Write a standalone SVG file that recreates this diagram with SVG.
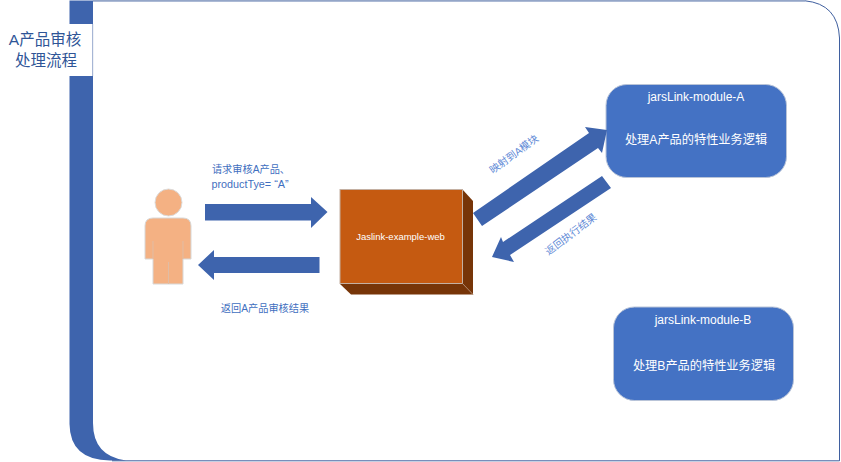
<svg xmlns="http://www.w3.org/2000/svg" width="841" height="462" viewBox="0 0 841 462">
<style>
text{font-family:"Liberation Sans","Noto Sans CJK SC",sans-serif;text-anchor:middle}
.w{fill:#fff}
.arrow{fill:#3e64ad}
.node{fill:#4472c4;stroke:#b9c4d8;stroke-width:1}
.lab{fill:#3f6fc0;font-size:10.200px}
.wide{font-size:10.800px}
.rot{fill:#5f8ad6}
</style>
<rect width="841" height="462" fill="#fff"/>
<g id="frame">
<path d="M69.500 0.500H93V423Q93 456 126 460.500H110Q70 460 69.500 424Z" fill="#3e64ad"/>
<path d="M93 0.800H805Q838 4 839.500 38V460.800H112" fill="none" stroke="#3f5f9f" stroke-width="1"/>
<path d="M93 0.800H805" fill="none" stroke="#94a6c8" stroke-width="1.500"/>
</g>
<g id="title">
<rect x="0" y="24" width="92.500" height="52" fill="#fff"/>
<line x1="92.700" y1="24" x2="92.700" y2="76" stroke="#a9b7d6" stroke-width="1"/>
<text x="45" y="45" font-size="15.500" fill="#2f5597">A产品审核</text>
<text x="46" y="66" font-size="15.500" fill="#2f5597">处理流程</text>
</g>
<g id="person">
<circle cx="168.500" cy="202.500" r="13.500" fill="#f4b183" stroke="#dcdcdc" stroke-width="1"/>
<path d="M153 218H183Q191 218 191 226V259H183V284H153V259H145V226Q145 218 153 218Z" fill="#f4b183" stroke="#d8d8d8" stroke-width="1"/>
<path d="M153 241V259M183 241V259M168.500 262V284" fill="none" stroke="#e0bca4" stroke-width="1"/>
</g>
<g id="jaslink">
<path d="M340 189.500H462.500L473 201V294.500H351L340 284Z" fill="#773508"/>
<rect x="340" y="189.500" width="122.500" height="94" fill="#c55a11" stroke="#c4b0a2" stroke-width="1"/>
<line x1="462.500" y1="283.500" x2="473" y2="294.500" stroke="#b08a70" stroke-width="1"/>
<text x="400.500" y="240" font-size="9.500" class="w">Jaslink-example-web</text>
</g>
<g id="module-a">
<rect x="606" y="84.500" width="180.500" height="93" rx="21" class="node"/>
<text x="696" y="101" font-size="12" class="w">jarsLink-module-A</text>
<text x="696" y="144" font-size="12.200" class="w">处理A产品的特性业务逻辑</text>
</g>
<g id="module-b">
<rect x="613.500" y="307" width="180" height="93.500" rx="21" class="node"/>
<text x="703" y="324" font-size="12" class="w">jarsLink-module-B</text>
<text x="704" y="370" font-size="12.200" class="w">处理B产品的特性业务逻辑</text>
</g>
<g id="connectors">
<polygon class="arrow" points="205,204 311,204 311,197 327.500,212 311,228 311,220.500 205,220.500"/>
<polygon class="arrow" points="319.500,257 214,257 214,250 198,265 214,280 214,273 319.500,273"/>
<polygon class="arrow" points="473,213 589,133 585,127 607,130 602,153 598,148 482,226"/>
<polygon class="arrow" points="602,176 503,242 501,237 492,257 514,262 510,255 611,188"/>
</g>
<g id="labels">
<text x="251" y="173" class="lab">请求审核A产品、</text>
<text x="250" y="188" class="lab wide">productTye= “A”</text>
<text x="265" y="312" class="lab">返回A产品审核结果</text>
<text transform="translate(516,157) rotate(-36)" class="lab rot">映射到A模块</text>
<text transform="translate(573,237) rotate(-37)" class="lab rot">返回执行结果</text>
</g>
</svg>
